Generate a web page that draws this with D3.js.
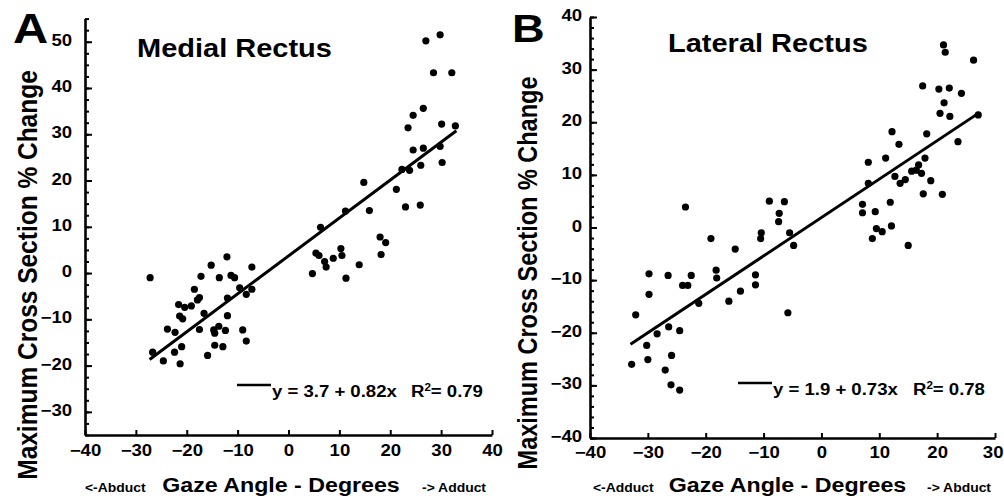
<!DOCTYPE html>
<html>
<head>
<meta charset="utf-8">
<script src="https://cdn.jsdelivr.net/npm/d3@7"></script>
<style>
  body { margin: 0; background: #fff; }
  svg text { font-family: "Liberation Sans", Arial, sans-serif; font-weight: bold; fill: #000; }
</style>
</head>
<body>
<svg id="chart" width="1004" height="500"></svg>
<script>
// Panel A - medial rectus, gaze angle (deg) vs max cross section % change
const medialAngle = [27.0, 29.8, 28.5, 32.1, 26.5, 24.5, 23.5, 30.1, 32.8, 24.5, 26.5, 29.8, 30.2, 26.0, 22.3, 23.8,
  21.2, 23.0, 25.9, 14.8, 15.9, 11.2, 6.3, 18.0, 19.1, 10.3, 18.2, 5.4, 6.0, 7.1, 7.4, 8.8, 10.5, 13.9, 4.7, 11.3,
  -27.2, -26.7, -24.6, -23.8, -22.3, -22.4, -21.3, -21.0, -21.4, -20.8, -21.6, -20.4, -19.1, -18.5, -17.9, -17.5,
  -17.2, -16.6, -17.5, -15.2, -15.9, -14.7, -14.5, -14.5, -13.7, -13.6, -12.9, -12.4, -12.0, -12.0, -12.1, -11.3,
  -10.6, -9.6, -9.0, -8.3, -8.3, -7.2, -7.2];
const medialChange = [50.2, 51.5, 43.3, 43.3, 35.6, 34.1, 31.4, 32.2, 31.8, 26.6, 27.0, 27.4, 23.9, 23.3, 22.4, 22.2,
  18.1, 14.3, 14.7, 19.6, 13.5, 13.4, 9.9, 7.8, 6.6, 5.3, 4.0, 4.3, 3.8, 2.5, 1.3, 3.2, 3.8, 1.8, -0.1, -1.1,
  -1.0, -17.1, -19.0, -12.1, -12.8, -17.1, -19.6, -15.9, -9.3, -9.9, -6.8, -7.4, -7.1, -3.5, -5.8, -5.3,
  -0.7, -8.7, -12.2, 1.7, -17.8, -12.3, -15.6, -13.0, -11.5, -1.0, -15.9, -12.4, -9.2, -5.4, 3.5, -0.5,
  -1.0, -3.2, -12.3, -14.7, -4.6, 1.3, -3.5];

// Panel B - lateral rectus
const lateralAngle = [21.1, 21.4, 26.3, 17.5, 20.3, 22.1, 24.2, 21.2, 20.5, 22.2, 27.1, 23.6, 12.2, 18.2, 13.4, 8.1,
  11.1, 17.9, 16.8, 16.4, 15.6, 17.3, 12.7, 14.5, 18.9, 13.6, 8.1, 17.6, 20.9, 7.1, 7.1, 11.9, 9.3, 9.5, 10.5,
  12.1, 8.8, 15.0, -23.5, -9.0, -6.4, -7.3, -7.4, -5.5, -10.4, -10.5, -4.8, -19.1, -14.9, -29.8, -26.5, -22.5,
  -18.2, -18.1, -24.0, -23.1, -11.4, -11.4, -29.8, -14.0, -21.2, -16.0, -5.8, -32.1, -28.4, -26.4, -24.5, -30.2,
  -30.0, -32.8, -25.9, -27.0, -26.0, -24.5];
const lateralChange = [34.7, 33.3, 31.8, 26.9, 26.3, 26.5, 25.5, 23.7, 21.7, 21.1, 21.4, 16.3, 18.2, 17.8, 15.8, 12.4,
  13.2, 13.2, 11.9, 10.9, 10.7, 10.3, 9.7, 9.1, 8.9, 8.4, 8.4, 6.4, 6.3, 4.4, 2.8, 4.8, 3.0, -0.2, -0.8,
  0.3, -2.1, -3.4, 3.9, 5.0, 4.9, 2.7, 1.1, -1.0, -1.0, -2.1, -3.4, -2.1, -4.1, -8.8, -9.1, -9.1,
  -8.1, -9.6, -11.0, -11.0, -9.0, -10.9, -12.7, -12.1, -14.4, -14.0, -16.2, -16.6, -20.2, -18.9, -19.6, -22.4,
  -25.1, -26.0, -24.3, -27.1, -29.9, -30.9];

// regression: [intercept, slope], and the x span the line covers
const medialFit = [3.7, 0.82];
const medialFitSpan = [-27.3, 33];
const lateralFit = [1.9, 0.73];
const lateralFitSpan = [-33, 27.3];

const xTicksA = [-40, -30, -20, -10, 0, 10, 20, 30, 40];
const yTicksA = [-30, -20, -10, 0, 10, 20, 30, 40, 50];
const xTicksB = [-40, -30, -20, -10, 0, 10, 20, 30];
const yTicksB = [-40, -30, -20, -10, 0, 10, 20, 30, 40];

const SX = 1.16; // source figure is stretched sideways
const W = 1004;
const svg = d3.select('#chart');

function stretchText(parent, x, y, str, size, anchor) {
    return parent.append('text')
        .attr('transform', `translate(${x},${y}) scale(${SX},1)`)
        .attr('font-size', size)
        .attr('text-anchor', anchor || 'start')
        .text(str);
}

function drawPanel(p) {
    const g = svg.append('g');
    const x = d3.scaleLinear().domain(p.xDomain).range(p.xRange);
    const y = d3.scaleLinear().domain(p.yDomain).range(p.yRange);

    // minor y ticks
    g.append('g')
        .attr('transform', `translate(${p.xRange[0]},0)`)
        .call(d3.axisLeft(y).tickValues(d3.range(p.yDomain[0], p.yDomain[1] + 0.01, p.yMinor)).tickSize(-4).tickFormat(''))
        .call(a => a.select('.domain').remove())
        .selectAll('line').attr('stroke-width', 2);

    const yAxis = g.append('g')
        .attr('transform', `translate(${p.xRange[0]},0)`)
        .call(d3.axisLeft(y).tickValues(p.yTicks).tickSize(-7).tickSizeOuter(0).tickPadding(p.yPad));
    yAxis.attr('font-size', 16);
    yAxis.select('.domain').attr('stroke-width', 2.6);
    yAxis.selectAll('line').attr('stroke-width', 2);
    yAxis.selectAll('text')
        .attr('x', -p.yPad / SX)
        .attr('dy', '0.22em')
        .attr('transform', `scale(${SX},1)`);

    const xAxis = g.append('g')
        .attr('transform', `translate(0,${p.yRange[0]})`)
        .call(d3.axisBottom(x).tickValues(p.xTicks).tickSize(-5).tickSizeOuter(0).tickPadding(p.xPad));
    xAxis.attr('font-size', 16);
    xAxis.select('.domain').attr('stroke-width', 2.6);
    xAxis.selectAll('line').attr('stroke-width', 2);
    xAxis.selectAll('text').attr('transform', `scale(${SX},1)`);
    // last label would run off the page: pin it to the right edge
    xAxis.selectAll('.tick').filter(d => x(d) + 12 > W)
        .select('text')
        .attr('text-anchor', 'end')
        .attr('x', d => (W - 1 - x(d)) / SX);

    g.append('g').selectAll('circle')
        .data(d3.zip(p.xs, p.ys))
        .join('circle')
        .attr('cx', d => x(d[0]))
        .attr('cy', d => y(d[1]))
        .attr('r', 3.6)
        .attr('fill', '#000');

    const fy = v => p.fit[0] + p.fit[1] * v;
    g.append('line')
        .attr('x1', x(p.span[0])).attr('y1', y(fy(p.span[0])))
        .attr('x2', x(p.span[1])).attr('y2', y(fy(p.span[1])))
        .attr('stroke', '#000').attr('stroke-width', 3);

    // legend
    g.append('line')
        .attr('x1', p.legend[0]).attr('x2', p.legend[0] + 34)
        .attr('y1', p.legend[1] - 12).attr('y2', p.legend[1] - 12)
        .attr('stroke', '#000').attr('stroke-width', 2.5);
    stretchText(g, p.legend[0] + 35, p.legend[1], p.eq, 16);
    const r2 = stretchText(g, p.legend[2], p.legend[1], 'R', 16);
    r2.append('tspan').attr('font-size', 10).attr('dy', -6).text('2');
    r2.append('tspan').attr('dy', 6).text(p.r2);

    stretchText(g, p.letter[0], p.letter[1], p.letter[2], p.letter[3]);
    stretchText(g, p.title[0], p.title[1], p.title[2], 25);

    g.append('text')
        .attr('transform', `translate(${p.yLabel[0]},${p.yLabel[1]}) scale(${SX},1) rotate(-90)`)
        .attr('font-size', p.yLabel[2])
        .attr('text-anchor', 'middle')
        .text('Maximum Cross Section % Change');

    stretchText(g, p.xLabel[0], 492, 'Gaze Angle - Degrees', 20, 'middle');
    stretchText(g, p.left[0], 492, p.left[1], 12);
    stretchText(g, p.right[0], 492, p.right[1], 12);
}

drawPanel({
    xs: medialAngle, ys: medialChange,
    xDomain: [-40, 40], xRange: [85, 492],
    yDomain: [-35, 55], yRange: [435, 18.6],
    xTicks: xTicksA, yTicks: yTicksA, yMinor: 2.5,
    yPad: 13, xPad: 10,
    fit: medialFit, span: medialFitSpan,
    eq: 'y = 3.7 + 0.82x', r2: '= 0.79',
    legend: [237, 397, 411],
    letter: [13, 43, 'A', 42],
    title: [137, 57, 'Medial Rectus'],
    yLabel: [37, 275, 24.5],
    xLabel: [281],
    left: [85, '<-Abduct'], right: [422, '-> Adduct']
});

drawPanel({
    xs: lateralAngle, ys: lateralChange,
    xDomain: [-40, 30], xRange: [590, 995],
    yDomain: [-40, 40], yRange: [438, 17],
    xTicks: xTicksB, yTicks: yTicksB, yMinor: 2,
    yPad: 8, xPad: 9,
    fit: lateralFit, span: lateralFitSpan,
    eq: 'y = 1.9 + 0.73x', r2: '= 0.78',
    legend: [738, 395, 913],
    letter: [512, 42, 'B', 39],
    title: [668, 52, 'Lateral Rectus'],
    yLabel: [537, 273, 23.5],
    xLabel: [787.5],
    left: [593, '<-Adduct'], right: [927, '-> Abduct']
});
</script>
</body>
</html>
